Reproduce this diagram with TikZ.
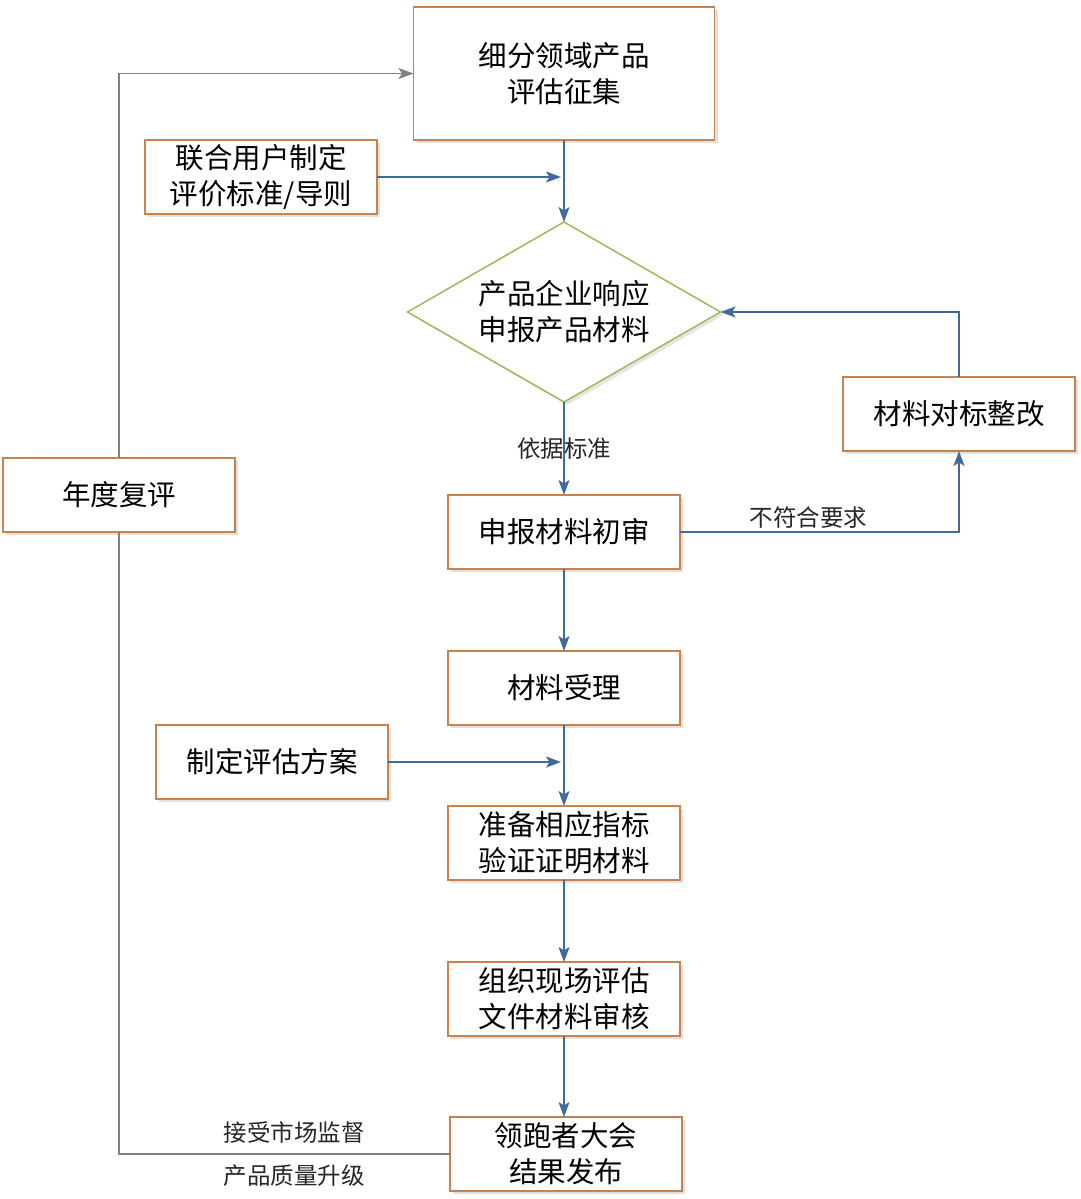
\documentclass[tikz,border=0pt]{standalone}
\usepackage{fontspec}
\newfontfamily\cjk{Noto Sans CJK SC}
\usetikzlibrary{arrows.meta,positioning,shapes.geometric,shadows}
\definecolor{edge}{HTML}{C8834D}
\definecolor{flow}{HTML}{41699C}
\definecolor{back}{HTML}{808080}
\definecolor{gate}{HTML}{9BBB59}

\begin{document}
\begin{tikzpicture}[x=1pt,y=-1pt,>={Stealth[length=15pt,width=11pt,inset=3.5pt]},
    stage/.style={draw=edge,line width=1.5pt,fill=white,minimum width=232pt,minimum height=74pt,align=center,outer sep=0pt,
      font=\cjk\fontsize{28.5}{36}\selectfont,drop shadow={shadow xshift=3pt,shadow yshift=-3pt,fill=black,opacity=0.12}},
    choice/.style={diamond,draw=gate,line width=1.5pt,fill=white,minimum width=313pt,minimum height=180pt,aspect=1.74,
      inner sep=0pt,outer sep=0pt,align=center,font=\cjk\fontsize{28.5}{36}\selectfont,drop shadow={shadow xshift=3pt,shadow yshift=-3pt,fill=black,opacity=0.10}},
    flow/.style={draw=flow,line width=1.5pt},
    back/.style={draw=back,line width=1.5pt},
    note/.style={font=\cjk\fontsize{23.5}{28}\selectfont,text=black!85,inner sep=3pt}]
  \useasboundingbox (0,0) rectangle (1080,1199);

  % main column
  \node[stage,minimum width=301pt,minimum height=133pt] (call) at (564,73.5) {细分领域产品\\评估征集};
  \node[choice,below=82pt of call] (resp) {产品企业响应\\申报产品材料};
  \node[stage,below=93pt of resp] (check) {申报材料初审};
  \node[stage,below=82pt of check] (accept) {材料受理};
  \node[stage,below=81pt of accept] (prove) {准备相应指标\\验证证明材料};
  \node[stage,below=82pt of prove] (audit) {组织现场评估\\文件材料审核};
  \node[stage,below=81pt of audit,xshift=2pt] (release) {领跑者大会\\结果发布};

  % side boxes
  \node[stage] (unite) at (261,177) {联合用户制定\\评价标准/导则};
  \node[stage] (plan) at (272,762) {制定评估方案};
  \node[stage] (fix) at (959,414) {材料对标整改};
  \node[stage] (review) at (119,495) {年度复评};

  % connectors
  \draw[flow,->] (call) -- (resp);
  \draw[flow,->,shorten >=3pt] (unite.east) -- (unite.east -| call.south);
  \draw[flow,->] (resp) -- node[note]{依据标准} (check);
  \draw[flow,->] (check.east) -| node[note,pos=0.23,above]{不符合要求} (fix.south);
  \draw[flow,->] (fix.north) |- (resp.east);
  \draw[flow,->] (check) -- (accept);
  \draw[flow,->] (accept) -- (prove);
  \draw[flow,->,shorten >=3pt] (plan.east) -- (plan.east -| accept.south);
  \draw[flow,->] (prove) -- (audit);
  \draw[flow,->] (audit.south) -- (audit.south |- release.north);

  % yearly loop
  \draw[back] (release.west) -| node[note,pos=0.235,above=7pt]{接受市场监督} node[note,pos=0.235,below=7pt]{产品质量升级} (review.south);
  \draw[back,->] (review.north) |- (call.west);
\end{tikzpicture}
\end{document}
